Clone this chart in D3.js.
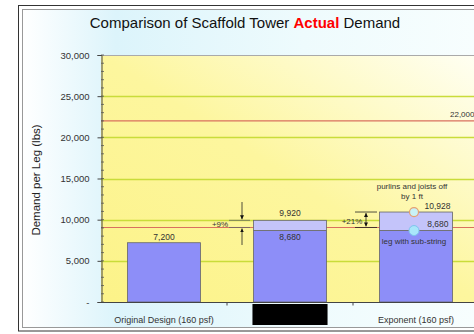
<!DOCTYPE html>
<html><head><meta charset="utf-8">
<script src="https://cdn.jsdelivr.net/npm/d3@7"></script>
<style>html,body{margin:0;padding:0;background:#fff;}svg{display:block;font-family:"Liberation Sans",Arial,sans-serif;}</style>
</head><body>
<script>
const categories = ["Original Design (160 psf)", "", "Exponent (160 psf)"];
const baseValues = [7200, 8680, 8680];
const topValues = [null, 9920, 10928];
const refLines = [22000, 9050];
const yTicks = [0, 5000, 10000, 15000, 20000, 25000, 30000];
const yMax = 30000;

const W = 474, H = 334;
const svg = d3.select("body").append("svg").attr("width", W).attr("height", H);
const defs = svg.append("defs");
const g1 = defs.append("linearGradient").attr("id","chartBg").attr("x1","0").attr("y1","0").attr("x2","1").attr("y2","0");
g1.append("stop").attr("offset","0").attr("stop-color","#ffffff");
g1.append("stop").attr("offset","0.2").attr("stop-color","#dcf4fb");
g1.append("stop").attr("offset","0.6").attr("stop-color","#eefbfd");
g1.append("stop").attr("offset","1").attr("stop-color","#f8fefe");
const g2 = defs.append("linearGradient").attr("id","plotBg").attr("x1","0").attr("y1","1").attr("x2","1").attr("y2","0");
g2.append("stop").attr("offset","0").attr("stop-color","#fcf388");
g2.append("stop").attr("offset","0.5").attr("stop-color","#fdf69e");
g2.append("stop").attr("offset","1").attr("stop-color","#fffff4");
defs.append("marker").attr("id","arr").attr("viewBox","0 0 6 6").attr("refX",6).attr("refY",3)
  .attr("markerWidth",5).attr("markerHeight",5).attr("orient","auto")
  .append("path").attr("d","M0,0L6,3L0,6Z").attr("fill","#111");

// frame
svg.append("rect").attr("x",18.5).attr("y",5.5).attr("width",470).attr("height",325.5).attr("fill","none").attr("stroke","#333");
svg.append("rect").attr("x",22.5).attr("y",9.5).attr("width",466).attr("height",318).attr("fill","url(#chartBg)").attr("stroke","#999");

const m = {left:101, top:55, right:479, bottom:302};
const x = d3.scaleBand().domain(d3.range(categories.length)).range([m.left, m.right]).paddingInner(0.42).paddingOuter(0.21);
const y = d3.scaleLinear().domain([0, yMax]).range([m.bottom, m.top]);

// plot bg
svg.append("rect").attr("x",m.left).attr("y",m.top).attr("width",m.right-m.left).attr("height",m.bottom-m.top).attr("fill","url(#plotBg)");

// gridlines
svg.append("g").selectAll("line").data(yTicks.filter(d=>d>0 && d<yMax)).join("line")
  .attr("x1",m.left).attr("x2",m.right).attr("y1",d=>Math.round(y(d))+0.5).attr("y2",d=>Math.round(y(d))+0.5)
  .attr("stroke","#c9dc3a").attr("stroke-width",1.3);
svg.append("line").attr("x1",m.left).attr("x2",m.right).attr("y1",m.top+0.5).attr("y2",m.top+0.5).attr("stroke","#aaa");

// reference lines
svg.append("g").selectAll("line").data(refLines).join("line")
  .attr("x1",m.left).attr("x2",m.right).attr("y1",d=>y(d)).attr("y2",d=>y(d))
  .attr("stroke","#d9705e").attr("stroke-width",1.2);
svg.append("text").attr("x",474).attr("y",y(refLines[0])-4).attr("text-anchor","start").attr("font-size",8).attr("fill","#333")
  .attr("dx",-24).text(d3.format(",")(refLines[0]));

// bars
const bars = svg.append("g");
bars.selectAll("rect.base").data(baseValues).join("rect").attr("class","base")
  .attr("x",(d,i)=>x(i)).attr("width",x.bandwidth()).attr("y",d=>y(d)).attr("height",d=>y(0)-y(d))
  .attr("fill","#8d8ef8").attr("stroke","#666").attr("stroke-width",0.8);
bars.selectAll("rect.top").data(topValues.map((v,i)=>({v,i})).filter(d=>d.v!=null)).join("rect").attr("class","top")
  .attr("x",d=>x(d.i)).attr("width",x.bandwidth()).attr("y",d=>y(d.v)).attr("height",d=>y(baseValues[d.i])-y(d.v))
  .attr("fill","#c4c4fa").attr("stroke","#666").attr("stroke-width",0.8);

const fmt = d3.format(",");
const lbl = svg.append("g").attr("font-size",8.5).attr("fill","#333");
// bar 1
lbl.append("text").attr("x",x(0)+x.bandwidth()/2).attr("y",y(baseValues[0])-3).attr("text-anchor","middle").text(fmt(baseValues[0]));
// bar 2
lbl.append("text").attr("x",x(1)+x.bandwidth()/2).attr("y",y(topValues[1])-4).attr("text-anchor","middle").text(fmt(topValues[1]));
lbl.append("text").attr("x",x(1)+x.bandwidth()/2).attr("y",y(baseValues[1])+9).attr("text-anchor","middle").attr("fill","#333").text(fmt(baseValues[1]));
// bar 3
lbl.append("text").attr("x",x(2)+x.bandwidth()-2).attr("y",y(topValues[2])-3).attr("text-anchor","end").text(fmt(topValues[2]));
lbl.append("text").attr("x",x(2)+x.bandwidth()-4).attr("y",y(baseValues[2])-4).attr("text-anchor","end").text(fmt(baseValues[2]));
const cx3 = x(2)+x.bandwidth()/2 - 2;
lbl.append("text").attr("x",cx3).attr("y",y(baseValues[2])+13).attr("text-anchor","middle").attr("font-size",8).text("leg with sub-string");
lbl.append("text").attr("x",cx3-2).attr("y",189).attr("text-anchor","middle").attr("font-size",8).text("purlins and joists off");
lbl.append("text").attr("x",cx3-2).attr("y",199).attr("text-anchor","middle").attr("font-size",8).text("by 1 ft");
svg.append("circle").attr("cx",cx3).attr("cy",y(topValues[2])).attr("r",4.5).attr("fill","#c8f2f6").attr("stroke","#e5a070").attr("stroke-width",1.2);
svg.append("circle").attr("cx",cx3).attr("cy",y(baseValues[2])).attr("r",5).attr("fill","#a9e6fa").attr("stroke","#7fc3ee").attr("stroke-width",1);

// annotations
const ann = svg.append("g").attr("stroke","#222").attr("stroke-width",0.8);
// +9%
const ax = 242;
ann.append("line").attr("x1",229).attr("x2",250).attr("y1",y(topValues[1])).attr("y2",y(topValues[1])).attr("stroke","#666");
ann.append("line").attr("x1",229).attr("x2",250).attr("y1",y(refLines[1])).attr("y2",y(refLines[1])).attr("stroke","#666");
ann.append("line").attr("x1",ax).attr("x2",ax).attr("y1",202).attr("y2",y(topValues[1])-1).attr("marker-end","url(#arr)");
ann.append("line").attr("x1",ax).attr("x2",ax).attr("y1",245).attr("y2",y(refLines[1])+1).attr("marker-end","url(#arr)");
svg.append("text").attr("x",220).attr("y",227).attr("text-anchor","middle").attr("font-size",8).attr("fill","#333").text("+9%");
// +21%
const bx = 366;
ann.append("line").attr("x1",355).attr("x2",377).attr("y1",y(topValues[2])).attr("y2",y(topValues[2]));
ann.append("line").attr("x1",355).attr("x2",377).attr("y1",y(refLines[1])).attr("y2",y(refLines[1]));
ann.append("line").attr("x1",bx).attr("x2",bx).attr("y1",219).attr("y2",y(topValues[2])+1).attr("marker-end","url(#arr)");
ann.append("line").attr("x1",bx).attr("x2",bx).attr("y1",219).attr("y2",y(refLines[1])-1).attr("marker-end","url(#arr)");
svg.append("text").attr("x",352).attr("y",224).attr("text-anchor","middle").attr("font-size",8).attr("fill","#333").text("+21%");

// y axis
const yAxis = d3.axisLeft(y).tickValues(yTicks).tickSize(4).tickFormat(d=>d===0?"-":fmt(d));
const ya = svg.append("g").attr("transform",`translate(${m.left+0.5},0)`).call(yAxis);
ya.select(".domain").attr("stroke","#444");
ya.selectAll(".tick line").attr("stroke","#444");
ya.selectAll("text").attr("font-size",9.5).attr("fill","#333").attr("x",-12).attr("font-family","Liberation Sans, Arial, sans-serif");
// minor ticks
svg.append("g").selectAll("line").data(d3.range(0,yMax+1,1000)).join("line")
  .attr("x1",m.left).attr("x2",m.left+3).attr("y1",d=>y(d)).attr("y2",d=>y(d)).attr("stroke","#555").attr("stroke-width",0.8);

// x axis
const xa = svg.append("g").attr("transform",`translate(0,${m.bottom+0.5})`);
xa.append("line").attr("x1",m.left).attr("x2",m.right).attr("stroke","#444");
xa.selectAll("line.t").data(d3.range(1,categories.length)).join("line").attr("class","t")
  .attr("x1",i=>x(i)-x.step()*x.paddingInner()/2).attr("x2",i=>x(i)-x.step()*x.paddingInner()/2).attr("y1",0).attr("y2",3).attr("stroke","#444");
xa.selectAll("text").data(categories).join("text")
  .attr("x",(d,i)=>x(i)+x.bandwidth()/2).attr("y",20).attr("text-anchor","middle").attr("font-size",9).attr("fill","#333").text(d=>d);
// redaction box
svg.append("rect").attr("x",x(1)-1).attr("y",304).attr("width",x.bandwidth()+2).attr("height",21).attr("fill","#000");

// titles
svg.append("text").attr("transform","translate(40,180) rotate(-90)").attr("text-anchor","middle").attr("font-size",11.5).attr("fill","#222").text("Demand per Leg (lbs)");
const t = svg.append("text").attr("x",245).attr("y",28).attr("text-anchor","middle").attr("font-size",15).attr("fill","#111");
t.append("tspan").text("Comparison of Scaffold Tower ");
t.append("tspan").attr("fill","#f00").attr("font-weight","bold").text("Actual");
t.append("tspan").text(" Demand");
</script>
</body></html>
